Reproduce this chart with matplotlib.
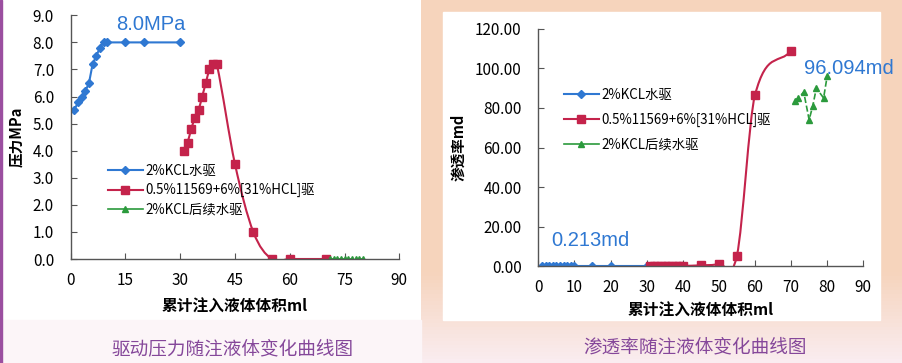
import matplotlib
matplotlib.use("Agg")
import matplotlib.pyplot as plt
import numpy as np
from matplotlib.path import Path
from matplotlib.patches import PathPatch, Rectangle
from matplotlib.lines import Line2D

plt.rcParams['font.family'] = ['Noto Sans CJK SC', 'DejaVu Sans']

# 数据 - 左图 压力
p_kcl_x = [1, 2, 3, 4, 5, 6, 7, 8, 9, 10, 15, 20, 30]
p_kcl_y = [5.5, 5.8, 6.0, 6.2, 6.5, 7.2, 7.5, 7.8, 8.0, 8.0, 8.0, 8.0, 8.0]
p_acid_x = [31, 32, 33, 34, 35, 36, 37, 38, 39, 40, 45, 50, 55, 60, 70]
p_acid_y = [4.0, 4.3, 4.8, 5.2, 5.5, 6.0, 6.5, 7.0, 7.2, 7.2, 3.5, 1.0, 0.0, 0.0, 0.0]
p_post_x = [71, 72, 73, 74, 75, 76, 77, 78, 79, 80]
p_post_y = [0, 0, 0, 0, 0, 0, 0, 0, 0, 0]

# 数据 - 右图 渗透率
k_kcl_x = [1, 2, 3, 4, 5, 6, 7, 8, 9, 10, 15, 20, 30]
k_kcl_y = [0.213] * 13
k_acid_x = [31, 32, 33, 34, 35, 36, 37, 38, 39, 40, 45, 50, 55, 60, 70]
k_acid_y = [0.2, 0.2, 0.2, 0.2, 0.2, 0.2, 0.2, 0.2, 0.2, 0.2, 0.5, 1.2, 5.4, 86.5, 108.9]
k_post_x = [71, 72, 73.5, 75, 76, 77, 79, 80]
k_post_y = [83.5, 85.0, 88.0, 74.0, 81.0, 90.0, 85.0, 96.094]

labels = ['2%KCL水驱', '0.5%11569+6%[31%HCL]驱', '2%KCL后续水驱']

blue = '#2f78d2'
red = '#c4234b'
green = '#2b9a3c'
axcol = '#555555'
purple = '#85479a'


def smooth_path(x, y):
    # 平滑线 (有限差分切线的三次 bezier, 类似 excel 平滑线)
    x = np.asarray(x, float)
    y = np.asarray(y, float)
    h = np.diff(x)
    d = np.diff(y) / h
    n = len(x)
    m = np.zeros(n)
    m[0] = d[0]
    m[-1] = d[-1]
    for k in range(1, n - 1):
        m[k] = (y[k + 1] - y[k - 1]) / (x[k + 1] - x[k - 1])
    verts = [(x[0], y[0])]
    codes = [Path.MOVETO]
    for k in range(n - 1):
        verts += [(x[k] + h[k] / 3, y[k] + m[k] * h[k] / 3),
                  (x[k + 1] - h[k] / 3, y[k + 1] - m[k + 1] * h[k] / 3),
                  (x[k + 1], y[k + 1])]
        codes += [Path.CURVE4] * 3
    return Path(verts, codes)


fig = plt.figure(figsize=(9.02, 3.63), dpi=100)

# 背景
bg = fig.add_axes([0, 0, 1, 1], zorder=-5)
bg.set_xlim(0, 902)
bg.set_ylim(363, 0)
bg.axis('off')
grad = np.linspace(0, 1, 100)[:, None]
c_top = np.array([246, 212, 188]) / 255
c_bot = np.array([250, 236, 240]) / 255
w = np.clip((grad - 0.75) / 0.25, 0, 1)
img = (c_top * (1 - w) + c_bot * w)[:, None, :]
bg.imshow(img, extent=[421, 902, 363, 0], aspect='auto', zorder=0)
bg.add_patch(Rectangle((443, 12), 437, 308, color='white', zorder=1))
bg.add_patch(Rectangle((0, 320), 421, 43, color='#fcf5f8', zorder=1))
bg.add_patch(Rectangle((0, 0), 2, 363, color='#9b4fa0', zorder=2))

# 左图
ax1 = fig.add_axes([0.0784, 0.2865, 0.3643, 0.6713])
ax1.patch.set_alpha(0)
ax1.plot(p_kcl_x, p_kcl_y, color=blue, lw=1.5, marker='D', ms=4.5)
ax1.add_patch(PathPatch(smooth_path(p_acid_x, p_acid_y), fill=False, ec=red, lw=1.5))
ax1.plot(p_acid_x, p_acid_y, ls='none', color=red, marker='s', ms=6)
ax1.plot(p_post_x, p_post_y, color=green, lw=1.2, ls='--', marker='^', ms=4.5)
ax1.set_xlim(0, 90)
ax1.set_ylim(0, 9)
ax1.set_xticks(np.arange(0, 91, 15))
ax1.set_yticks(np.arange(0, 9.1, 1))
ax1.set_yticklabels(['%.1f' % v for v in np.arange(0, 9.1, 1)])
ax1.text(12.3, 8.65, '8.0MPa', color=blue, fontsize=14.5, va='center', ha='left',
         family='Liberation Sans')
ax1.set_xlabel('累计注入液体体积ml', fontsize=11.3, fontweight='bold', labelpad=7)
ax1.set_ylabel('压力MPa', fontsize=10.5, fontweight='bold', labelpad=6)

# 右图
ax2 = fig.add_axes([0.5968, 0.2664, 0.3603, 0.6545])
ax2.patch.set_alpha(0)
ax2.plot(k_kcl_x, k_kcl_y, color=blue, lw=1.5, marker='D', ms=4.5)
ax2.add_patch(PathPatch(smooth_path(k_acid_x, k_acid_y), fill=False, ec=red, lw=1.5))
ax2.plot(k_acid_x, k_acid_y, ls='none', color=red, marker='s', ms=6)
ax2.plot(k_post_x, k_post_y, color=green, lw=1.2, ls='--', marker='^', ms=4.5)
ax2.set_xlim(0, 90)
ax2.set_ylim(0, 120)
ax2.set_xticks(np.arange(0, 91, 10))
ax2.set_yticks(np.arange(0, 121, 20))
ax2.set_yticklabels(['%.2f' % v for v in np.arange(0, 121, 20)])
ax2.text(3.7, 12.9, '0.213md', color=blue, fontsize=14.5, va='center', ha='left',
         family='Liberation Sans')
ax2.text(73.5, 100, '96.094md', color=blue, fontsize=14.5, va='center', ha='left',
         family='Liberation Sans', clip_on=False)
ax2.set_xlabel('累计注入液体体积ml', fontsize=11.3, fontweight='bold', labelpad=5)
ax2.set_ylabel('渗透率md', fontsize=10.5, fontweight='bold', labelpad=6)

for ax in (ax1, ax2):
    for s in ('top', 'right'):
        ax.spines[s].set_visible(False)
    for s in ('left', 'bottom'):
        ax.spines[s].set_color(axcol)
        ax.spines[s].set_linewidth(1.0)
    ax.tick_params(axis='both', direction='in', length=4, color=axcol, labelsize=11)
    ax.tick_params(axis='x', pad=9)
    ax.tick_params(axis='y', pad=12)

handles = [Line2D([], [], color=blue, lw=1.5, marker='D', ms=4.5),
           Line2D([], [], color=red, lw=1.5, marker='s', ms=5.5),
           Line2D([], [], color=green, lw=1.2, marker='^', ms=4)]

fig.legend(handles, labels, loc='upper left', bbox_to_anchor=(108 / 902, 1 - 164 / 363),
           frameon=False, fontsize=9.6, handlelength=2.6, handletextpad=0.2, labelspacing=0.4,
           borderaxespad=0, borderpad=0)
fig.legend(handles, labels, loc='upper left', bbox_to_anchor=(564 / 902, 1 - 88 / 363),
           frameon=False, fontsize=9.6, handlelength=2.6, handletextpad=0.2, labelspacing=0.8,
           borderaxespad=0, borderpad=0)

fig.text(233 / 902, 1 - 349 / 363, '驱动压力随注液体变化曲线图', color=purple,
         fontsize=13.4, ha='center', va='center')
fig.text(695 / 902, 1 - 347 / 363, '渗透率随注液体变化曲线图', color=purple,
         fontsize=13.4, ha='center', va='center')

fig.savefig('out.png', dpi=100)
